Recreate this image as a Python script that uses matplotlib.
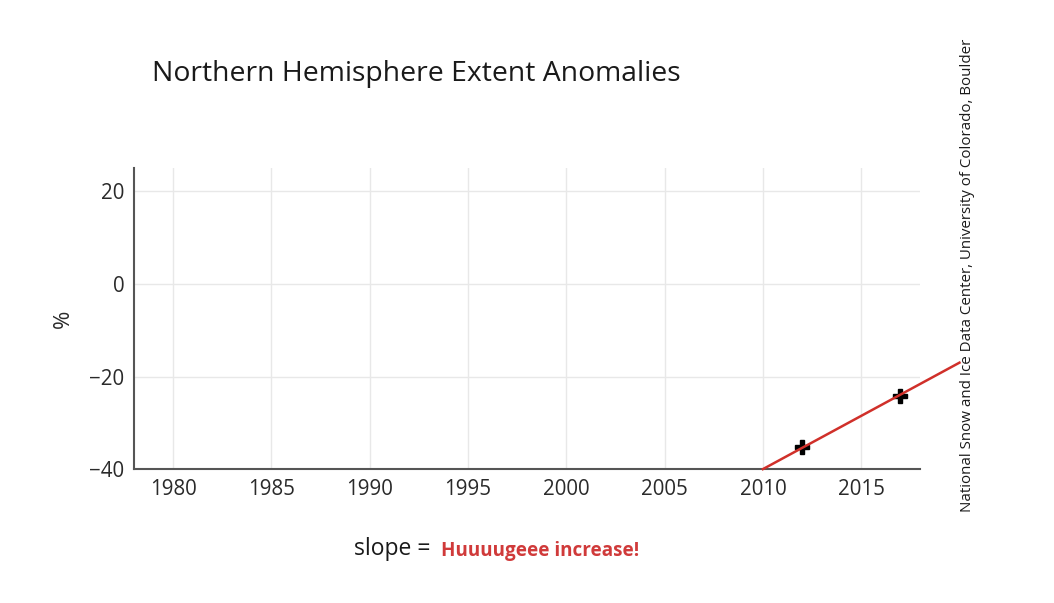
import matplotlib
matplotlib.use('Agg')
import matplotlib.pyplot as plt

plt.rcParams['font.family'] = ['Open Sans', 'DejaVu Sans']

# data
years = [2012, 2017]
anomaly = [-35.3, -24.3]
trend_years = [2010, 2020]
trend_values = [-40.0, -17.0]
x_ticks = [1980, 1985, 1990, 1995, 2000, 2005, 2010, 2015]
y_ticks = [-40, -20, 0, 20]

fig = plt.figure(figsize=(10.54, 6.03), dpi=100, facecolor='white')
ax = fig.add_axes([0.127, 0.222, 0.746, 0.499])

ax.plot(years, anomaly, linestyle='none', marker='P', markersize=10.5,
        color='black', zorder=3)
ax.plot(trend_years, trend_values, color='#d0302a', linewidth=1.8,
        clip_on=False, zorder=4)

ax.set_xlim(1978, 2018)
ax.set_ylim(-40, 25)
ax.set_xticks(x_ticks)
ax.set_yticks(y_ticks)
ax.set_yticklabels(['\u221240', '\u221220', '0', '20'])
ax.grid(True, color='#e8e8e8', linewidth=1)
ax.set_axisbelow(True)
ax.tick_params(length=0, labelsize=14.8, colors='#2a2a2a', pad=7)
for side in ['top', 'right']:
    ax.spines[side].set_visible(False)
for side in ['left', 'bottom']:
    ax.spines[side].set_color('#555555')
    ax.spines[side].set_linewidth(1.5)

ax.set_ylabel('%', fontsize=16, color='#2a2a2a')
ax.yaxis.set_label_coords(-0.076, 0.5)

fig.text(0.144, 0.878, 'Northern Hemisphere Extent Anomalies', fontsize=20.4,
         color='#1a1a1a', ha='left', va='center')
fig.text(0.408, 0.090, 'slope =', fontsize=16.5, color='#1a1a1a',
         ha='right', va='center')
fig.text(0.418, 0.087, 'Huuuugeee increase!', fontsize=13.6, color='#d03a3a',
         fontweight='bold', ha='left', va='center')
fig.text(0.918, 0.544,
         'National Snow and Ice Data Center, University of Colorado, Boulder',
         fontsize=10.9, color='#1a1a1a', rotation=90, ha='center', va='center')

plt.savefig('out.png', dpi=100, facecolor='white')
